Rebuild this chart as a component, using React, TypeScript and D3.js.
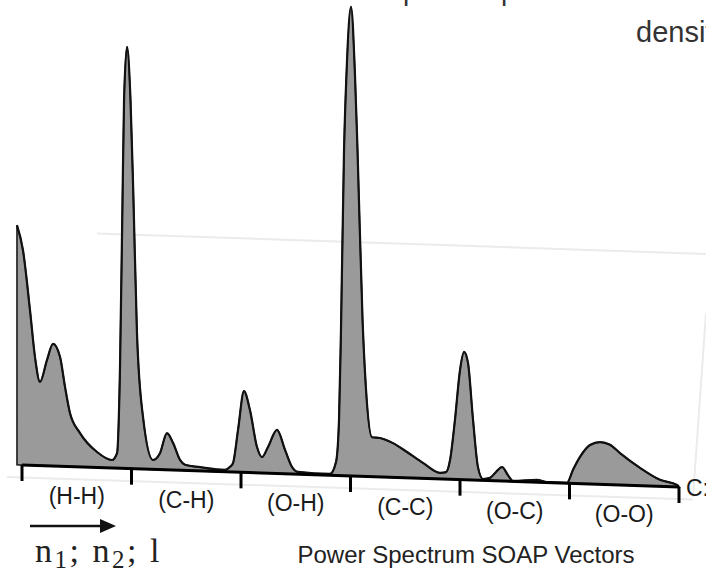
import React from "react";
import * as d3 from "d3";

// pair types along the SOAP vector
const pairTypes = ["(H-H)", "(C-H)", "(O-H)", "(C-C)", "(O-C)", "(O-O)"];

// position along the vector (in segment units) and density
const featurePos = [
  -0.046, 0.009, 0.073, 0.119, 0.164, 0.228, 0.283, 0.347, 0.393, 0.438, 0.53, 0.685, 0.822,
  0.868, 0.895, 0.918, 0.932, 0.959, 0.991, 1.018, 1.05, 1.105, 1.196, 1.26, 1.324, 1.379,
  1.443, 1.489, 1.626, 1.854, 1.9, 1.927, 1.973, 2.027, 2.082, 2.146, 2.192, 2.247, 2.329,
  2.402, 2.466, 2.521, 2.813, 2.868, 2.895, 2.913, 2.941, 2.963, 3.005, 3.041, 3.064, 3.11,
  3.142, 3.196, 3.269, 3.388, 3.516, 3.662, 3.817, 3.872, 3.909, 3.954, 4.0, 4.037, 4.073,
  4.119, 4.164, 4.21, 4.274, 4.329, 4.384, 4.438, 4.484, 4.703, 4.795, 4.977, 5.032, 5.096,
  5.187, 5.279, 5.37, 5.461, 5.644, 5.826, 5.982, 6.0,
];
const density = [
  0.51, 0.457, 0.33, 0.23, 0.178, 0.225, 0.26, 0.233, 0.169, 0.114, 0.072, 0.033, 0.017,
  0.032, 0.215, 0.571, 0.784, 0.897, 0.784, 0.572, 0.289, 0.111, 0.02, 0.035, 0.078, 0.058,
  0.022, 0.012, 0.008, 0.004, 0.011, 0.019, 0.09, 0.173, 0.133, 0.055, 0.034, 0.056, 0.093,
  0.051, 0.015, 0.005, 0.003, 0.029, 0.118, 0.31, 0.693, 0.853, 0.998, 0.853, 0.694, 0.333,
  0.184, 0.084, 0.083, 0.073, 0.055, 0.033, 0.013, 0.015, 0.041, 0.127, 0.233, 0.272, 0.249,
  0.128, 0.028, 0.003, 0.006, 0.019, 0.03, 0.013, 0.001, 0.005, 0.001, 0.001, 0.029, 0.057,
  0.083, 0.09, 0.085, 0.068, 0.038, 0.014, 0.004, 0,
];

const W = 706;
const H = 576;
const sans = "'Liberation Sans', Arial, sans-serif";

export default function App() {
  const x = d3.scaleLinear().domain([0, 6]).range([22, 679]);
  // the axis is drawn in perspective, so the baseline tilts down to the right
  const base = d3.scaleLinear().domain([0, 6]).range([465, 487]);
  const h = d3.scaleLinear().domain([0, 1]).range([0, 470]);

  const pts = featurePos.map((p, i) => [p, density[i]] as [number, number]);

  const area = d3
    .area<[number, number]>()
    .x((d) => x(d[0]))
    .y0((d) => base(d[0]))
    .y1((d) => base(d[0]) - h(d[1]))
    .curve(d3.curveMonotoneX);
  const line = d3
    .line<[number, number]>()
    .x((d) => x(d[0]))
    .y((d) => base(d[0]) - h(d[1]))
    .curve(d3.curveMonotoneX);

  const u0 = x.invert(7);
  const u1 = x.invert(693);
  const uTop = x.invert(97);
  const uEnd = x.invert(706);

  return (
    <svg
      width={W}
      height={H}
      style={{ position: "absolute", left: 0, top: 0, background: "#fff" }}
    >
      {/* faint frame lines of the 3d box */}
      <g stroke="#ebebeb" strokeWidth={2}>
        <line x1={97} y1={base(uTop) - 234} x2={706} y2={base(uEnd) - 234} />
        <line x1={7} y1={base(u0) + 12.5} x2={693} y2={base(u1) + 12} />
        <line x1={706} y1={313} x2={693} y2={497} />
      </g>

      <path d={area(pts) ?? ""} fill="#9a9a9a" stroke="#111" strokeWidth={1.5} />
      <path d={line(pts) ?? ""} fill="none" stroke="#111" strokeWidth={2.2} />

      {/* axis */}
      <line x1={x(0)} y1={base(0)} x2={x(6)} y2={base(6)} stroke="#000" strokeWidth={3} />
      {d3.range(0, 7).map((i) => (
        <line
          key={i}
          x1={x(i)}
          y1={base(i)}
          x2={x(i)}
          y2={base(i) + 16}
          stroke="#000"
          strokeWidth={3}
        />
      ))}
      {pairTypes.map((t, i) => (
        <text
          key={t}
          x={x(i + 0.5)}
          y={base(i + 0.5) + 29}
          textAnchor="middle"
          dominantBaseline="central"
          fontFamily={sans}
          fontSize={23}
          fill="#1a1a1a"
        >
          {t}
        </text>
      ))}
      <text x={686} y={base(6) + 1} dominantBaseline="central" fontFamily={sans} fontSize={23} fill="#1a1a1a">
        C:
      </text>

      {/* direction arrow */}
      <line x1={30} y1={526} x2={102} y2={526} stroke="#111" strokeWidth={2.5} />
      <path d="M100,519 L116,526 L100,533 Z" fill="#111" />

      <text
        x={35}
        y={562}
        fontFamily="'Liberation Serif', 'DejaVu Serif', serif"
        fontSize={34}
        letterSpacing={2.5}
        fill="#222"
      >
        n<tspan fontSize={25} dy={6}>1</tspan>
        <tspan dy={-6}>; n</tspan>
        <tspan fontSize={25} dy={6}>2</tspan>
        <tspan dy={-6}>; l</tspan>
      </text>

      <text x={466} y={563} textAnchor="middle" fontFamily={sans} fontSize={24} fill="#222">
        Power Spectrum SOAP Vectors
      </text>

      {/* title, cut off by the frame */}
      <text x={403} y={0} fontFamily={sans} fontSize={28} fill="#333">
        power spectrum
      </text>
      <text x={636} y={42} fontFamily={sans} fontSize={29} fill="#333">
        density
      </text>
    </svg>
  );
}
